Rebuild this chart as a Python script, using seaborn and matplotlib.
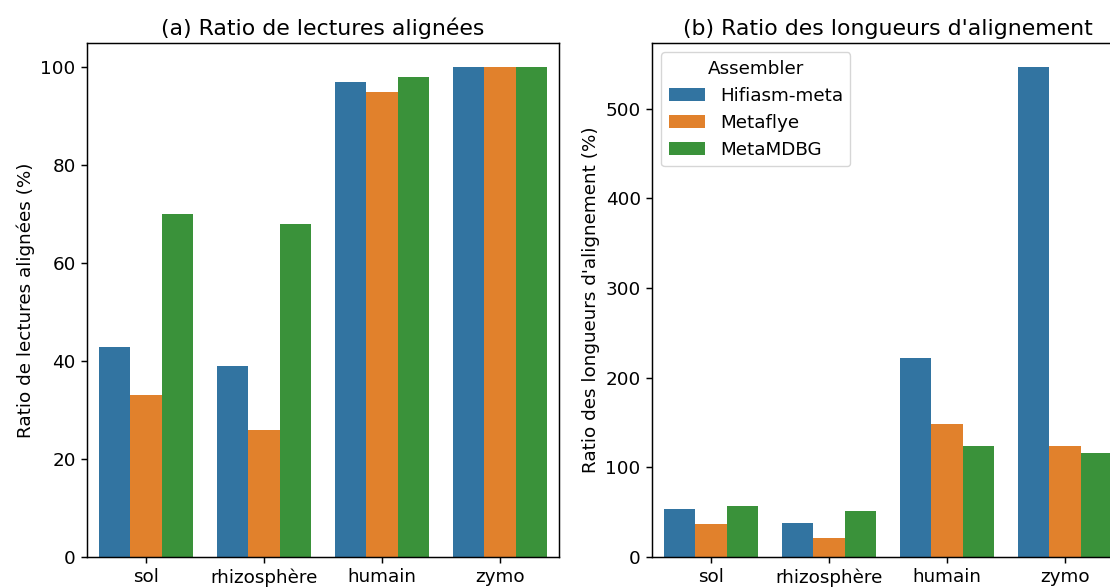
import pandas as pd
import seaborn as sns
from matplotlib import pyplot as plt

# samples and assemblers
samples = ["sol", "rhizosphère", "humain", "zymo"]
assemblers = ["Hifiasm-meta", "Metaflye", "MetaMDBG"]

# (a) ratio of aligned reads (%), one list per assembler
reads_hifiasm = [43, 39, 97, 100]
reads_metaflye = [33, 26, 95, 100]
reads_metamdbg = [70, 68, 98, 100]

# (b) ratio of alignment lengths (%)
length_hifiasm = [53, 38, 222, 546]
length_metaflye = [37, 21, 148, 124]
length_metamdbg = [57, 51, 124, 116]


def build_frame(hifiasm, metaflye, metamdbg):
    rows = []
    for assembler, values in zip(assemblers, [hifiasm, metaflye, metamdbg]):
        for sample, value in zip(samples, values):
            rows.append({"Sample": sample, "Assembler": assembler, "Value": value})
    return pd.DataFrame(rows)


reads_df = build_frame(reads_hifiasm, reads_metaflye, reads_metamdbg)
length_df = build_frame(length_hifiasm, length_metaflye, length_metamdbg)

# the reference was rendered larger and scaled down, so everything is ~1.32x
scale = 1.32
plt.rcParams.update({
    'font.size': 10 * scale,
    'axes.linewidth': 0.8 * scale,
    'xtick.major.size': 3.5 * scale,
    'ytick.major.size': 3.5 * scale,
    'xtick.major.width': 0.8 * scale,
    'ytick.major.width': 0.8 * scale,
})

fig = plt.figure(figsize=(11.1, 5.88), dpi=100)
# the right panel runs slightly past the canvas edge, like the reference crop
ax1 = fig.add_axes([87 / 1110, 31 / 588, 472 / 1110, 514 / 588])
ax2 = fig.add_axes([652 / 1110, 31 / 588, 472 / 1110, 514 / 588])

sns.barplot(data=reads_df, x="Sample", y="Value", hue="Assembler", ax=ax1)
ax1.set_title("(a) Ratio de lectures alignées", fontsize=12 * scale)
ax1.set_xlabel("")
ax1.set_ylabel("Ratio de lectures alignées (%)")
ax1.get_legend().remove()

sns.barplot(data=length_df, x="Sample", y="Value", hue="Assembler", ax=ax2)
ax2.set_title("(b) Ratio des longueurs d'alignement", fontsize=12 * scale)
ax2.set_xlabel("")
ax2.set_ylabel("Ratio des longueurs d'alignement (%)")
ax2.legend(title="Assembler", loc="upper left")

fig.savefig("out.png", dpi=100)
